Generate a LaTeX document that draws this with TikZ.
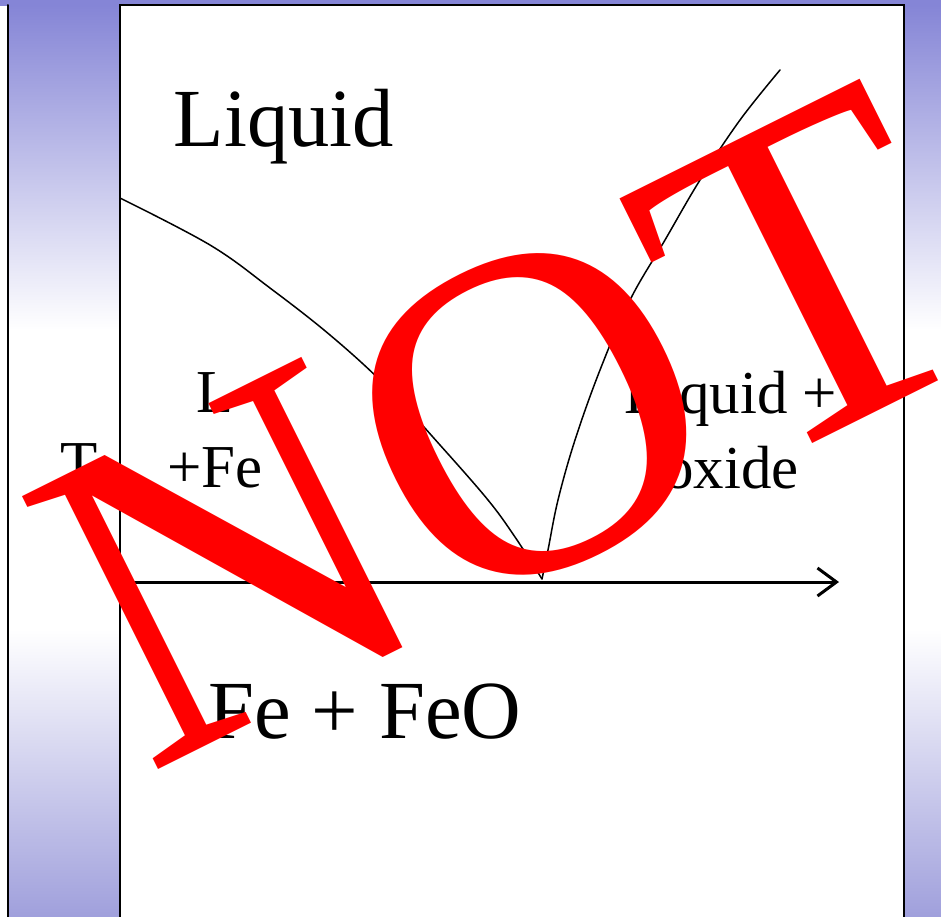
\documentclass[tikz,border=0pt]{standalone}
\usepackage{fontspec}
\setmainfont{Liberation Serif}
\usetikzlibrary{arrows.meta}
\usepackage{xcolor}
\definecolor{slidetop}{RGB}{133,133,214}
\definecolor{slidebottom}{RGB}{160,160,220}

\begin{document}
\begin{tikzpicture}[x=0.2mm,y=-0.2mm,>={Straight Barb[length=3.8mm,width=5.6mm]},line cap=round]
\useasboundingbox (0,0) rectangle (941,916);
\clip (0,0) rectangle (941,916);
\tikzset{
  edge/.style={line width=0.4mm},
  phase/.style={line width=0.3mm},
  big/.style={inner sep=0pt,font=\fontsize{47}{56}\selectfont},
  small/.style={inner sep=0pt,align=center,font=\fontsize{34.7}{42.7}\selectfont},
  stamp/.style={inner sep=0pt,text=red,font=\fontsize{265}{265}\selectfont}
}
% slide frame
\fill[slidetop] (0,0) rectangle (941,6);
\shade[top color=slidetop,bottom color=white] (8,5) rectangle (120,330);
\fill[white] (8,329) rectangle (120,630);
\shade[top color=white,bottom color=slidebottom] (8,629) rectangle (120,916);
\shade[top color=slidetop,bottom color=white] (904,5) rectangle (941,330);
\fill[white] (904,329) rectangle (941,630);
\shade[top color=white,bottom color=slidebottom] (904,629) rectangle (941,916);
\draw[edge] (8,5) -- (8,930);
\draw[edge,fill=white] (120,930) -- (120,5) -- (904,5) -- (904,930);
% phase diagram
\coordinate (origin) at (120,582);
\coordinate (axisend) at (839,582);
\coordinate (eutectic) at (542,579);
\coordinate (liqleft) at (120,198);
\coordinate (liqright) at (780,70);
\draw[phase] (liqleft) plot[smooth,tension=0.6] coordinates {(120,198) (210,245) (270,288) (330,335) (385,385) (440,445) (488,500) (515,537) (542,579)};
\draw[phase] (eutectic) plot[smooth,tension=0.6] coordinates {(542,579) (548,550) (558,500) (575,440) (600,370) (630,300) (665,240) (700,180) (740,120) (780,70)};
\draw[->,line width=0.6mm] (origin) -- (axisend);
\node[big,anchor=base] (liquid) at (284,146) {Liquid};
\node[small,anchor=base] (temp) at (79,483) {T};
\node[small,anchor=north] (lfe) at (215,372) {L\\+Fe};
\node[small,anchor=north] (liqox) at (731,371) {Liquid +\\oxide};
\node[big,anchor=base] (fefeo) at (365,738) {Fe + FeO};
% stamp
\node[stamp,rotate=26.5] (not) at (507,426) {NOT};
\end{tikzpicture}
\end{document}
